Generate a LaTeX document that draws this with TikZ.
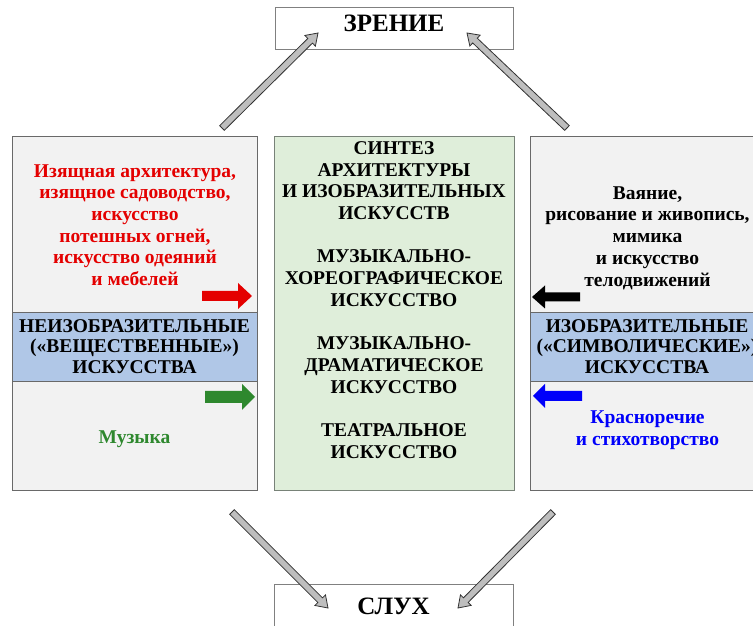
\documentclass[tikz,border=0pt]{standalone}
\usepackage{fontspec}
\setmainfont{Liberation Serif}
\usetikzlibrary{calc}

\definecolor{panelfill}{RGB}{242,242,242}
\definecolor{paneledge}{RGB}{105,105,105}
\definecolor{bandfill}{RGB}{176,199,231}
\definecolor{synthfill}{RGB}{223,238,218}
\definecolor{synthedge}{RGB}{120,130,120}
\definecolor{senseedge}{RGB}{128,128,128}
\definecolor{arrowfill}{RGB}{190,190,190}
\definecolor{arrowedge}{RGB}{50,50,50}
\definecolor{txtred}{RGB}{228,0,0}
\definecolor{txtgreen}{RGB}{46,136,46}
\definecolor{txtblue}{RGB}{0,0,250}

% block arrow: style, from, to, shaft half-width, head half-width, head length
\newcommand\blockarrow[6]{%
  \path[#1] let \p1=($(#3)-(#2)$), \n1={atan2(\y1,\x1)}, \n2={veclen(\x1,\y1)} in
    ($(#2)+(\n1-90:#4)$)
    -- ($(#2)+(\n1:\n2-#6)+(\n1-90:#4)$)
    -- ($(#2)+(\n1:\n2-#6)+(\n1-90:#5)$)
    -- (#3)
    -- ($(#2)+(\n1:\n2-#6)+(\n1+90:#5)$)
    -- ($(#2)+(\n1:\n2-#6)+(\n1+90:#4)$)
    -- ($(#2)+(\n1+90:#4)$) -- cycle;}

\begin{document}
\begin{tikzpicture}[x=1pt,y=1pt,
  panel/.style={draw=paneledge, fill=panelfill, line width=0.9pt, inner sep=0pt},
  band/.style={draw=paneledge, fill=bandfill, line width=0.9pt, inner sep=0pt,
    align=center, font=\fontsize{19.5}{20.5}\selectfont\bfseries},
  synth/.style={draw=synthedge, fill=synthfill, line width=0.9pt, inner sep=0pt},
  sense/.style={draw=senseedge, fill=white, line width=0.7pt, inner sep=0pt},
  sensetext/.style={font=\fontsize{25}{28}\selectfont\bfseries, inner sep=0pt},
  arttext/.style={align=center, inner sep=0pt, font=\fontsize{19.5}{21.7}\selectfont\bfseries},
  grayarrow/.style={draw=arrowedge, fill=arrowfill, line width=0.8pt, line join=miter},
  colarrow/.style={fill=#1}
]
\clip (0,0) rectangle (753,626);
\fill[white] (0,0) rectangle (753,626);

% senses
\node[sense, minimum width=238pt, minimum height=42pt] (zrenie) at (394,598) {};
\node[sensetext] (zrenietxt) at (394,602.7) {ЗРЕНИЕ};
\node[sense, minimum width=239pt, minimum height=52pt] (sluh) at (393.5,16) {};
\node[sensetext] (sluhtxt) at (393.5,19.5) {СЛУХ};

% left panel: non-depicting arts
\node[panel, minimum width=245pt, minimum height=354pt] (lpanel) at (134.5,313) {};
\node[band, minimum width=245pt, minimum height=69pt] (lband) at (134.5,279.5)
  {НЕИЗОБРАЗИТЕЛЬНЫЕ\\(«ВЕЩЕСТВЕННЫЕ»)\\ИСКУССТВА};
\node[arttext, text=txtred] (ltop) at (135,401)
  {Изящная архитектура,\\изящное садоводство,\\искусство\\потешных огней,\\искусство одеяний\\и мебелей};
\node[arttext, text=txtgreen] (lbot) at (134.5,187) {Музыка};

% central panel: syntheses
\node[synth, minimum width=240pt, minimum height=354pt] (cpanel) at (394,313) {};
\node[arttext] (ctext) at (394,326)
  {СИНТЕЗ\\АРХИТЕКТУРЫ\\И ИЗОБРАЗИТЕЛЬНЫХ\\ИСКУССТВ\\[21.8pt]
   МУЗЫКАЛЬНО-\\ХОРЕОГРАФИЧЕСКОЕ\\ИСКУССТВО\\[21.8pt]
   МУЗЫКАЛЬНО-\\ДРАМАТИЧЕСКОЕ\\ИСКУССТВО\\[21.8pt]
   ТЕАТРАЛЬНОЕ\\ИСКУССТВО};

% right panel: depicting arts
\node[panel, minimum width=234pt, minimum height=354pt] (rpanel) at (647,313) {};
\node[band, minimum width=234pt, minimum height=69pt] (rband) at (647,279.5)
  {ИЗОБРАЗИТЕЛЬНЫЕ\\(«СИМВОЛИЧЕСКИЕ»)\\ИСКУССТВА};
\node[arttext] (rtop) at (647.5,388)
  {Ваяние,\\рисование и живопись,\\мимика\\и искусство\\телодвижений};
\node[arttext, text=txtblue] (rbot) at (647.5,196) {Красноречие\\и стихотворство};

% coloured arrows towards the syntheses
\coordinate (redA) at (202,330);   \coordinate (redB) at (252,330);
\coordinate (grnA) at (205,229);   \coordinate (grnB) at (255,229);
\coordinate (blkA) at (580,329);   \coordinate (blkB) at (532,329);
\coordinate (bluA) at (582,230);   \coordinate (bluB) at (533,230);
\blockarrow{colarrow=txtred}{redA}{redB}{5}{13}{14}
\blockarrow{colarrow=txtgreen}{grnA}{grnB}{6}{13}{13}
\blockarrow{colarrow=black}{blkA}{blkB}{4.5}{11.5}{13}
\blockarrow{colarrow=txtblue}{bluA}{bluB}{5}{12}{12}

% grey arrows towards the senses
\coordinate (tlA) at (222,498);  \coordinate (tlB) at (318,593);
\coordinate (trA) at (567,498);  \coordinate (trB) at (467,593);
\coordinate (blA) at (232,114);  \coordinate (blB) at (328,18);
\coordinate (brA) at (553,114);  \coordinate (brB) at (458,18);
\blockarrow{grayarrow}{tlA}{tlB}{3.3}{7.5}{11}
\blockarrow{grayarrow}{trA}{trB}{3.3}{7.5}{11}
\blockarrow{grayarrow}{blA}{blB}{3.3}{7.5}{11}
\blockarrow{grayarrow}{brA}{brB}{3.3}{7.5}{11}
\end{tikzpicture}
\end{document}
